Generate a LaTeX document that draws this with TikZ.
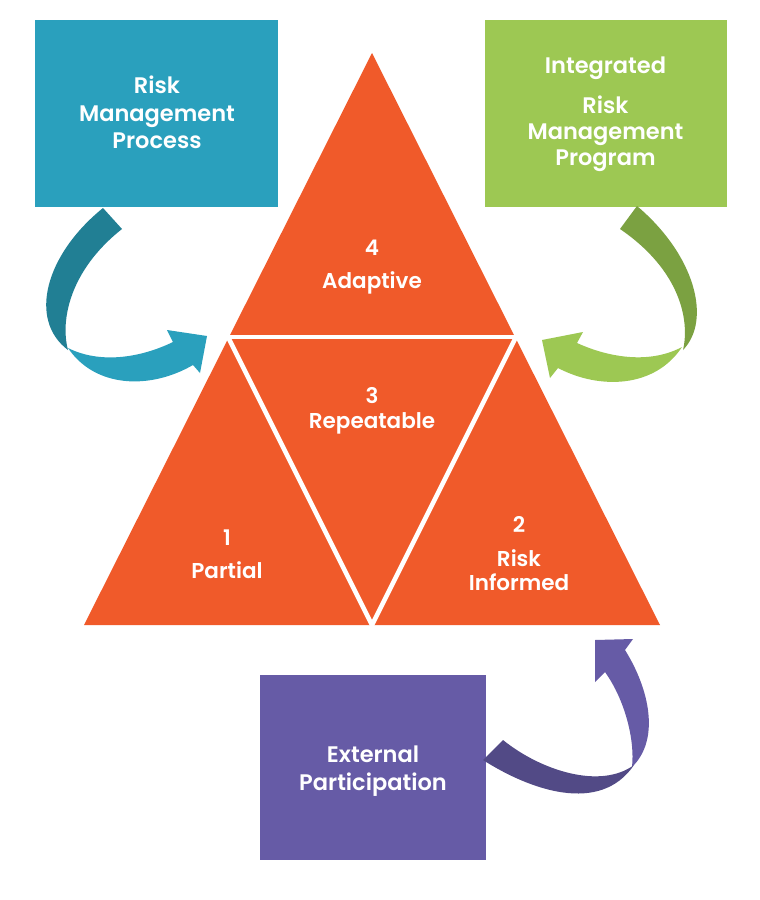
\documentclass[tikz,border=0pt]{standalone}
\usepackage{fontspec}
\newfontfamily\lbl{Poppins SemiBold}
\definecolor{tri}{HTML}{F05A2A}
\definecolor{bblue}{HTML}{2AA0BD}
\definecolor{dblue}{HTML}{217F94}
\definecolor{bgreen}{HTML}{9DC853}
\definecolor{dgreen}{HTML}{7BA141}
\definecolor{bpurple}{HTML}{665BA6}
\definecolor{dpurple}{HTML}{524A86}
\begin{document}
\begin{tikzpicture}[x=1pt,y=-1pt,
  boxtxt/.style={text=white, font=\lbl\fontsize{22.5}{27}\selectfont, anchor=base, inner sep=0pt},
  tritxt/.style={text=white, font=\lbl\fontsize{21.5}{26}\selectfont, anchor=base, inner sep=0pt},
  panel/.style={inner sep=0pt, outer sep=0pt}]
\useasboundingbox (0,0) rectangle (760,900);
\fill[white] (0,0) rectangle (760,900);

% boxes
\node[panel, fill=bblue, minimum width=243pt, minimum height=187pt] (rmp) at (156.5,113.5) {};
\node[panel, fill=bgreen, minimum width=242pt, minimum height=187pt] (irmp) at (606,113.5) {};
\node[panel, fill=bpurple, minimum width=226pt, minimum height=185pt] (ext) at (373,767.5) {};

\node[boxtxt] (rmp1) at (157,93) {Risk};
\node[boxtxt] (rmp2) at (157,121) {Management};
\node[boxtxt] (rmp3) at (157,148) {Process};

\node[boxtxt] (irmp1) at (605.5,73) {Integrated};
\node[boxtxt] (irmp2) at (605.5,113) {Risk};
\node[boxtxt] (irmp3) at (605.5,139) {Management};
\node[boxtxt] (irmp4) at (605.5,165) {Program};

\node[boxtxt] (ext1) at (373,762) {External};
\node[boxtxt] (ext2) at (373,790) {Participation};

% triangle
\coordinate (A) at (372,53);
\coordinate (L) at (84,625);
\coordinate (R) at (660,625);
\coordinate (ML) at (228,337);
\coordinate (MR) at (516,337);
\coordinate (MB) at (372,625);
\fill[tri] (A) -- (L) -- (R) -- cycle;
\draw[white, line width=4.5pt] (ML) -- (MR);
\draw[white, line width=4.5pt] (ML) -- (MB) -- (MR);

\node[tritxt] (t4a) at (372,255) {4};
\node[tritxt] (t4b) at (372,288) {Adaptive};
\node[tritxt] (t3a) at (372,403) {3};
\node[tritxt] (t3b) at (372,428) {Repeatable};
\node[tritxt] (t1a) at (227,545) {1};
\node[tritxt] (t1b) at (227,578) {Partial};
\node[tritxt] (t2a) at (519,532) {2};
\node[tritxt] (t2b) at (519,566) {Risk};
\node[tritxt] (t2c) at (519,590) {Informed};

% blue arrow
\fill[bblue] (68,348) .. controls (100,364) and (140,358) .. (173,342)
  -- (167,330) -- (207,336) -- (200,373) -- (193,365)
  .. controls (150,390) and (95,388) .. (68,348) -- cycle;
\fill[dblue] (103,208) .. controls (45,255) and (28,320) .. (68,350)
  .. controls (60,320) and (70,270) .. (122,229) -- cycle;

% green arrow
\fill[bgreen] (682,347) .. controls (650,364) and (610,358) .. (577,343)
  -- (583,332) -- (542,340) -- (550,378) -- (558,368)
  .. controls (600,390) and (655,388) .. (682,347) -- cycle;
\fill[dgreen] (637,206) .. controls (695,255) and (712,320) .. (683,350)
  .. controls (690,320) and (680,270) .. (620,229) -- cycle;

% purple arrow
\fill[bpurple] (632,767) .. controls (660,740) and (650,690) .. (625,650)
  -- (633,639) -- (595,640) -- (595,682) -- (605,672)
  .. controls (625,700) and (635,740) .. (632,767) -- cycle;
\fill[dpurple] (483,760) .. controls (530,790) and (600,815) .. (634,765)
  .. controls (600,790) and (540,770) .. (503,740) -- cycle;
\end{tikzpicture}
\end{document}
